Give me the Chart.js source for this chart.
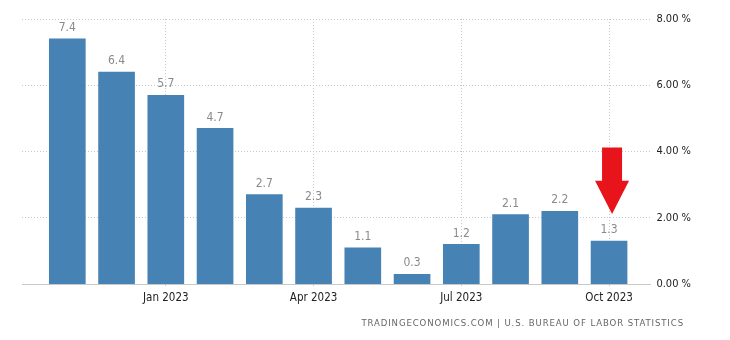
<!DOCTYPE html>
<html>
<head>
<meta charset="utf-8">
<script src="https://cdn.jsdelivr.net/npm/chart.js@4"></script>
<style>
  body { margin: 0; background: #fff; }
  #wrap { position: relative; width: 730px; height: 340px; }
  #source {
    position: absolute; right: 46px; top: 317px;
    font: 9.5px "DejaVu Sans Condensed", "DejaVu Sans", sans-serif;
    letter-spacing: 0.9px; color: #666;
  }
</style>
</head>
<body>
<div id="wrap">
  <canvas id="chart" width="730" height="340"></canvas>
  <div id="source">TRADINGECONOMICS.COM | U.S. BUREAU OF LABOR STATISTICS</div>
</div>
<script>
// === Dữ liệu
const months = ["Nov 2022", "Dec 2022", "Jan 2023", "Feb 2023", "Mar 2023", "Apr 2023",
  "May 2023", "Jun 2023", "Jul 2023", "Aug 2023", "Sep 2023", "Oct 2023"];
const inflation = [7.4, 6.4, 5.7, 4.7, 2.7, 2.3, 1.1, 0.3, 1.2, 2.1, 2.2, 1.3];
const labelledMonths = [2, 5, 8, 11];
const yTicks = [0, 2, 4, 6, 8];

const fontFamily = '"DejaVu Sans Condensed", "DejaVu Sans", sans-serif';

// === Nhãn giá trị trên cột
const valueLabels = {
  id: "valueLabels",
  afterDatasetsDraw(chart) {
    const ctx = chart.ctx;
    ctx.save();
    ctx.font = "12px " + fontFamily;
    ctx.fillStyle = "#8a8a8a";
    ctx.textAlign = "center";
    ctx.textBaseline = "bottom";
    chart.getDatasetMeta(0).data.forEach((bar, i) => {
      ctx.fillText(inflation[i].toFixed(1), bar.x, bar.y - 5);
    });
    ctx.restore();
  },
};

// === Mũi tên đỏ chỉ vào tháng cuối
const redArrow = {
  id: "redArrow",
  afterDraw(chart) {
    const ctx = chart.ctx;
    const bars = chart.getDatasetMeta(0).data;
    const last = bars[bars.length - 1];
    const y = chart.scales.y;
    const cx = last.x + 3;
    const top = y.getPixelForValue(4.12);
    const neck = y.getPixelForValue(3.12);
    const tip = y.getPixelForValue(2.12);
    ctx.save();
    ctx.fillStyle = "#e8141c";
    ctx.beginPath();
    ctx.moveTo(cx - 10, top);
    ctx.lineTo(cx + 10, top);
    ctx.lineTo(cx + 10, neck);
    ctx.lineTo(cx + 17, neck);
    ctx.lineTo(cx, tip);
    ctx.lineTo(cx - 17, neck);
    ctx.lineTo(cx - 10, neck);
    ctx.closePath();
    ctx.fill();
    ctx.restore();
  },
};

new Chart(document.getElementById("chart").getContext("2d"), {
  type: "bar",
  data: {
    datasets: [
      {
        data: inflation.map((v, i) => ({ x: i, y: v })),
        backgroundColor: "#4682b4",
        barThickness: 36,
      },
    ],
  },
  options: {
    responsive: false,
    animation: false,
    layout: { padding: { left: 22, right: 33, top: 19, bottom: 32 } },
    plugins: { legend: { display: false }, tooltip: { enabled: false } },
    scales: {
      x: {
        type: "linear",
        offset: false,
        min: -0.92,
        max: 11.84,
        afterBuildTicks: (axis) => {
          axis.ticks = labelledMonths.map((v) => ({ value: v }));
        },
        ticks: {
          autoSkip: false,
          maxRotation: 0,
          padding: 3,
          color: "#222",
          font: { family: fontFamily, size: 11.5 },
          callback: (v) => months[v],
        },
        grid: {
          offset: false,
          color: "#c8c8c8",
          tickLength: 4,
          tickBorderDash: [1, 2],
        },
        border: { display: true, color: "#c8c8c8", dash: [1, 2] },
      },
      y: {
        position: "right",
        min: 0,
        max: 8,
        afterBuildTicks: (axis) => {
          axis.ticks = yTicks.map((v) => ({ value: v }));
        },
        ticks: {
          padding: 6,
          color: "#222",
          font: { family: fontFamily, size: 11 },
          callback: (v) => v.toFixed(2) + " %",
        },
        grid: { color: "#c8c8c8", drawTicks: false },
        border: { display: false, dash: [1, 2] },
      },
    },
  },
  plugins: [valueLabels, redArrow],
});
</script>
</body>
</html>
